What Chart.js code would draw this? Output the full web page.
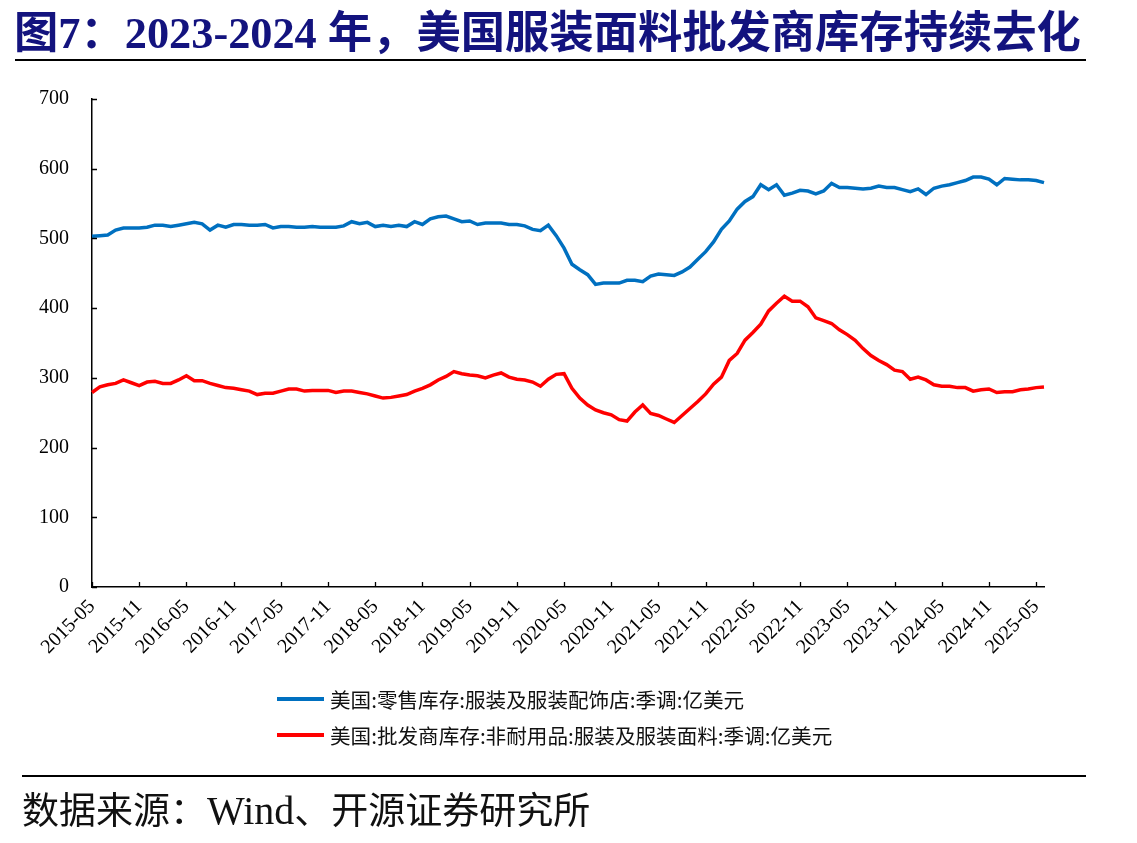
<!DOCTYPE html>
<html>
<head>
<meta charset="utf-8">
<script src="https://cdn.jsdelivr.net/npm/chart.js@4.4.1/dist/chart.umd.min.js"></script>
<style>
  html, body { margin: 0; padding: 0; background: #ffffff; }
  #wrap { position: relative; width: 1137px; height: 843px; overflow: hidden; background: #fff; }
  #c { position: absolute; left: 0; top: 0; }
  .title { position: absolute; left: 14px; top: 3px; font-family: "Liberation Serif", "Noto Sans CJK SC", serif; font-weight: bold; font-size: 44.3px; color: #13137e; white-space: nowrap; line-height: 52px; }
  .title .cjk { font-family: "Noto Sans CJK SC", sans-serif; }
  .rule { position: absolute; background: #000; }
  .leg { position: absolute; left: 277px; height: 20px; }
  .leg .ln { position: absolute; left: 0; top: 8px; width: 47px; height: 4px; }
  .leg .tx { position: absolute; left: 53px; top: -4px; font-family: "Noto Sans CJK SC", sans-serif; font-size: 20.6px; line-height: 28px; color: #111; white-space: nowrap; }
  .src { position: absolute; left: 22px; top: 784px; font-family: "Noto Sans CJK SC", sans-serif; font-size: 37px; line-height: 48px; color: #111; white-space: nowrap; }
  .src .lat { font-family: "Liberation Serif", serif; font-size: 40px; }
</style>
</head>
<body>
<div id="wrap">
  <canvas id="c" width="1137" height="843"></canvas>
  <div class="title"><span class="cjk">图</span>7<span class="cjk">：</span>2023-2024 <span class="cjk">年，美国服装面料批发商库存持续去化</span></div>
  <div class="rule" style="left:15px; top:59px; width:1071px; height:2px;"></div>
  <div class="leg" style="top:689px;"><div class="ln" style="background:#0070C0"></div><div class="tx" id="lg1"></div></div>
  <div class="leg" style="top:725px;"><div class="ln" style="background:#FF0000"></div><div class="tx" id="lg2"></div></div>
  <div class="rule" style="left:22px; top:775px; width:1064px; height:2px;"></div>
  <div class="src">数据来源：<span class="lat">Wind</span>、开源证券研究所</div>
</div>
<script>
// ---- data ----
const months = [
  "2015-05","2015-06","2015-07","2015-08","2015-09","2015-10","2015-11","2015-12",
  "2016-01","2016-02","2016-03","2016-04","2016-05","2016-06","2016-07","2016-08","2016-09","2016-10","2016-11","2016-12",
  "2017-01","2017-02","2017-03","2017-04","2017-05","2017-06","2017-07","2017-08","2017-09","2017-10","2017-11","2017-12",
  "2018-01","2018-02","2018-03","2018-04","2018-05","2018-06","2018-07","2018-08","2018-09","2018-10","2018-11","2018-12",
  "2019-01","2019-02","2019-03","2019-04","2019-05","2019-06","2019-07","2019-08","2019-09","2019-10","2019-11","2019-12",
  "2020-01","2020-02","2020-03","2020-04","2020-05","2020-06","2020-07","2020-08","2020-09","2020-10","2020-11","2020-12",
  "2021-01","2021-02","2021-03","2021-04","2021-05","2021-06","2021-07","2021-08","2021-09","2021-10","2021-11","2021-12",
  "2022-01","2022-02","2022-03","2022-04","2022-05","2022-06","2022-07","2022-08","2022-09","2022-10","2022-11","2022-12",
  "2023-01","2023-02","2023-03","2023-04","2023-05","2023-06","2023-07","2023-08","2023-09","2023-10","2023-11","2023-12",
  "2024-01","2024-02","2024-03","2024-04","2024-05","2024-06","2024-07","2024-08","2024-09","2024-10","2024-11","2024-12",
  "2025-01","2025-02","2025-03","2025-04","2025-05","2025-06"
];
const retailInventory = [
  503,504,505,512,515,515,515,516,519,519,517,519,
  521,523,521,512,519,516,520,520,519,519,520,515,
  517,517,516,516,517,516,516,516,518,524,521,523,
  517,519,517,519,517,524,520,528,531,532,528,524,
  525,520,522,522,522,520,520,518,513,511,519,504,
  486,463,455,448,434,436,436,436,440,440,438,446,
  449,448,447,452,459,470,481,495,513,525,542,553,
  560,577,570,577,562,565,569,568,564,568,579,573,
  573,572,571,572,575,573,573,570,567,571,563,572,
  575,577,580,583,588,588,585,577,586,585,584,584,
  583,580
];
const wholesaleInventory = [
  279,287,290,292,297,293,289,294,295,292,292,297,
  303,296,296,292,289,286,285,283,281,276,278,278,
  281,284,284,281,282,282,282,279,281,281,279,277,
  274,271,272,274,276,281,285,290,297,302,309,306,
  304,303,300,304,307,301,298,297,294,288,298,305,
  306,285,271,261,254,250,247,240,238,251,261,249,
  246,241,236,246,256,266,277,291,301,325,335,354,
  365,377,396,407,417,410,410,402,386,382,378,369,
  362,354,342,332,325,319,311,309,298,301,297,290,
  288,288,286,286,281,283,284,279,280,280,283,284,
  286,287
];
const seriesNames = ["美国:零售库存:服装及服装配饰店:季调:亿美元", "美国:批发商库存:非耐用品:服装及服装面料:季调:亿美元"];
const yTicks = [0, 100, 200, 300, 400, 500, 600, 700];
const labelEvery = 6;

document.getElementById('lg1').textContent = seriesNames[0];
document.getElementById('lg2').textContent = seriesNames[1];

const tickMarks = {
  id: 'tickMarks',
  afterDraw(chart) {
    const ctx = chart.ctx, x = chart.scales.x, y = chart.scales.y, a = chart.chartArea;
    ctx.save();
    ctx.strokeStyle = '#000';
    ctx.lineWidth = 1.3;
    ctx.beginPath();
    yTicks.forEach(v => {
      const py = Math.round(y.getPixelForValue(v)) + 0.5;
      ctx.moveTo(a.left, py); ctx.lineTo(a.left + 5, py);
    });
    months.forEach((m, i) => {
      if (i % labelEvery === 0) {
        const px = Math.round(x.getPixelForValue(i)) + 0.5;
        ctx.moveTo(px, a.bottom); ctx.lineTo(px, a.bottom - 5);
      }
    });
    ctx.stroke();
    ctx.restore();
  }
};

new Chart(document.getElementById('c'), {
  type: 'line',
  data: {
    labels: months,
    datasets: [
      { label: seriesNames[0], data: retailInventory, borderColor: '#0070C0', backgroundColor: '#0070C0', borderWidth: 3.5, pointRadius: 0, tension: 0 },
      { label: seriesNames[1], data: wholesaleInventory, borderColor: '#FF0000', backgroundColor: '#FF0000', borderWidth: 3.5, pointRadius: 0, tension: 0 }
    ]
  },
  options: {
    responsive: false,
    animation: false,
    devicePixelRatio: 1,
    layout: { padding: { left: 0, top: 99, right: 93, bottom: 156 } },
    plugins: { legend: { display: false }, tooltip: { enabled: false }, title: { display: false } },
    scales: {
      x: {
        type: 'category',
        offset: false,
        grid: { display: false, drawTicks: false },
        border: { display: true, color: '#000', width: 1.5 },
        afterFit(s) { s.height = 100; },
        ticks: {
          autoSkip: false, maxRotation: 45, minRotation: 45, padding: 8,
          color: '#000', font: { family: 'Liberation Serif', size: 20 },
          callback(v, i) { return i % labelEvery === 0 ? months[i] : ''; }
        }
      },
      y: {
        min: 0, max: 700,
        grid: { display: false, drawTicks: false },
        border: { display: true, color: '#000', width: 1.5 },
        afterFit(s) { s.width = 92; },
        afterBuildTicks(s) { s.ticks = yTicks.map(v => ({ value: v })); },
        ticks: { padding: 23, color: '#000', font: { family: 'Liberation Serif', size: 20 } }
      }
    }
  },
  plugins: [tickMarks]
});
</script>
</body>
</html>
